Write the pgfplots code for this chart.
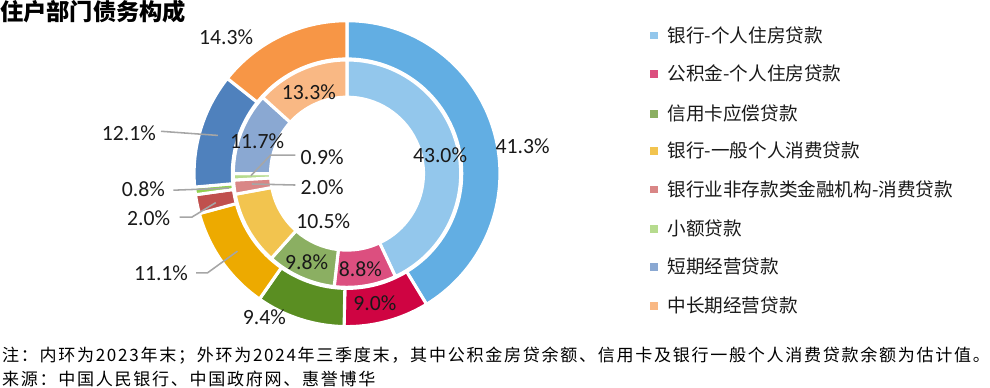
\documentclass[border=0pt]{standalone}
\usepackage{pgfplots}
\pgfplotsset{compat=1.18}
\usepackage{fontspec}
\setmainfont{Carlito}
\newfontfamily\cjk{Noto Sans CJK SC}
\newfontfamily\cjknote{Noto Sans CJK SC}[LetterSpace=10]
\definecolor{oA}{HTML}{62AEE3}\definecolor{iA}{HTML}{93C7EC}
\definecolor{oB}{HTML}{CF0442}\definecolor{iB}{HTML}{DC4F7F}
\definecolor{oC}{HTML}{5A8E22}\definecolor{iC}{HTML}{8BAF62}
\definecolor{oD}{HTML}{EDAA00}\definecolor{iD}{HTML}{F2C44F}
\definecolor{oE}{HTML}{C0504D}\definecolor{iE}{HTML}{D98686}
\definecolor{oF}{HTML}{92D050}\definecolor{iF}{HTML}{B6DB8E}
\definecolor{oG}{HTML}{4F81BD}\definecolor{iG}{HTML}{8AA8D2}
\definecolor{oH}{HTML}{F79646}\definecolor{iH}{HTML}{F9B884}
\definecolor{lead}{HTML}{A6A6A6}
\begin{document}
\begin{tikzpicture}
\begin{axis}[width=990bp,height=395bp,scale only axis,xmin=0,xmax=990,ymin=0,ymax=395,
  axis lines=none,clip=false]
% legend markers
\addplot[only marks,mark=square*,mark size=3.2bp,color=iA] coordinates {(639,354)};
\addplot[only marks,mark=square*,mark size=3.2bp,color=iB] coordinates {(639,317)};
\addplot[only marks,mark=square*,mark size=3.2bp,color=iC] coordinates {(639,278)};
\addplot[only marks,mark=square*,mark size=3.2bp,color=iD] coordinates {(639,242)};
\addplot[only marks,mark=square*,mark size=3.2bp,color=iE] coordinates {(639,205)};
\addplot[only marks,mark=square*,mark size=3.2bp,color=iF] coordinates {(639,167)};
\addplot[only marks,mark=square*,mark size=3.2bp,color=iG] coordinates {(639,130)};
\addplot[only marks,mark=square*,mark size=3.2bp,color=iH] coordinates {(639,92)};
\pgfplotsextra{
  % inner ring: 2023
  \xdef\cum{0}
  \foreach \v/\c in {43.0/iA,8.8/iB,9.8/iC,10.5/iD,2.0/iE,0.9/iF,11.7/iG,13.3/iH}{
    \pgfmathsetmacro\a{90-3.6*\cum}
    \pgfmathsetmacro\b{90-3.6*(\cum+\v)}
    \pgfmathsetmacro\bb{\b+180}
    \fill[\c,draw=white,line width=3bp] (axis cs:342,220) ++(\a:110bp)
      arc[start angle=\a,end angle=\b,radius=110bp] -- ++(\bb:36bp)
      arc[start angle=\b,end angle=\a,radius=74bp] -- cycle;
    \pgfmathsetmacro\nc{\cum+\v}\xdef\cum{\nc}
  }
  % outer ring: 2024Q3
  \xdef\cum{0}
  \foreach \v/\c in {41.3/oA,9.0/oB,9.4/oC,11.1/oD,2.0/oE,0.8/oF,12.1/oG,14.3/oH}{
    \pgfmathsetmacro\a{90-3.6*\cum}
    \pgfmathsetmacro\b{90-3.6*(\cum+\v)}
    \pgfmathsetmacro\bb{\b+180}
    \fill[\c,draw=white,line width=3bp] (axis cs:342,220) ++(\a:148bp)
      arc[start angle=\a,end angle=\b,radius=148bp] -- ++(\bb:37bp)
      arc[start angle=\b,end angle=\a,radius=111bp] -- cycle;
    \pgfmathsetmacro\nc{\cum+\v}\xdef\cum{\nc}
  }
}
% leader lines
\draw[lead,line width=1.5bp] (axis cs:162,261) -- (axis cs:217,257);
\draw[lead,line width=1.5bp] (axis cs:174,204) -- (axis cs:228,206);
\draw[lead,line width=1.5bp] (axis cs:180,178) -- (axis cs:192,178) -- (axis cs:215,192);
\draw[lead,line width=1.5bp] (axis cs:196,124) -- (axis cs:207,124) -- (axis cs:236,145);
\draw[lead,line width=1.5bp] (axis cs:292,238) -- (axis cs:268,238) -- (axis cs:249,218);
\draw[lead,line width=1.5bp] (axis cs:292,209) -- (axis cs:250,210);
% value labels
\begin{scope}[every node/.style={font=\fontsize{21bp}{21bp}\selectfont,text=black!90,inner sep=0pt}]
\node at (axis cs:225,352) {14.3\%};
\node at (axis cs:512,247) {41.3\%};
\node at (axis cs:131,259) {12.1\%};
\node at (axis cs:145,205) {0.8\%};
\node at (axis cs:150,177) {2.0\%};
\node at (axis cs:162,124) {11.1\%};
\node at (axis cs:262,81) {9.4\%};
\node at (axis cs:369,95) {9.0\%};
\node at (axis cs:305,299) {13.3\%};
\node at (axis cs:255,251) {11.7\%};
\node at (axis cs:432,238) {43.0\%};
\node at (axis cs:318,236) {0.9\%};
\node at (axis cs:318,207) {2.0\%};
\node at (axis cs:319,174) {10.5\%};
\node at (axis cs:303,134) {9.8\%};
\node at (axis cs:355,128) {8.8\%};
\end{scope}
% legend texts
\begin{scope}[every node/.style={font=\cjk\fontsize{18bp}{18bp}\selectfont,text=black!90,anchor=west,inner sep=0pt}]
\node at (axis cs:652,354) {银行-个人住房贷款};
\node at (axis cs:652,317) {公积金-个人住房贷款};
\node at (axis cs:652,278) {信用卡应偿贷款};
\node at (axis cs:652,242) {银行-一般个人消费贷款};
\node at (axis cs:652,205) {银行业非存款类金融机构-消费贷款};
\node at (axis cs:652,167) {小额贷款};
\node at (axis cs:652,130) {短期经营贷款};
\node at (axis cs:652,92) {中长期经营贷款};
\end{scope}
% title and notes
\node[anchor=west,inner sep=0pt,font=\cjk\bfseries\fontsize{22.5bp}{22.5bp}\selectfont] at (axis cs:6,377) {住户部门债务构成};
\node[anchor=west,inner sep=0pt,font=\cjknote\fontsize{16.5bp}{16.5bp}\selectfont] at (axis cs:8,44) {注：内环为2023年末；外环为2024年三季度末，其中公积金房贷余额、信用卡及银行一般个人消费贷款余额为估计值。};
\node[anchor=west,inner sep=0pt,font=\cjknote\fontsize{16.5bp}{16.5bp}\selectfont] at (axis cs:8,21) {来源：中国人民银行、中国政府网、惠誉博华};
\end{axis}
\end{tikzpicture}
\end{document}
